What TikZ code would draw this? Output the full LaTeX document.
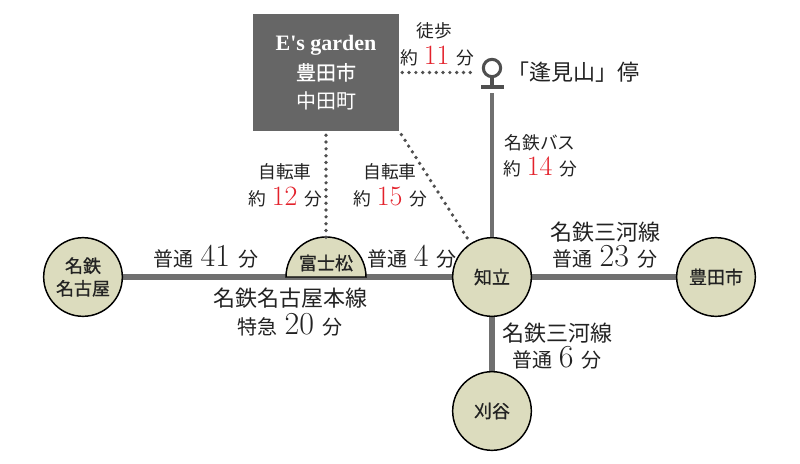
\documentclass[tikz,border=0pt]{standalone}
\usepackage{fontspec}
\usetikzlibrary{backgrounds}
\newfontfamily\jp{Noto Sans CJK JP}
\newfontfamily\jpb[FakeBold=0.8]{Noto Sans CJK JP}
\newfontfamily\serifb{Liberation Serif}
\newfontfamily\numf{Latin Modern Roman}
\definecolor{boxgray}{HTML}{666666}
\definecolor{railgray}{HTML}{707070}
\definecolor{dotgray}{HTML}{4F4F4F}
\definecolor{beige}{HTML}{DCDCBE}
\definecolor{numred}{HTML}{E3212B}
\definecolor{txt}{HTML}{222222}
\newcommand{\nm}[2]{\hspace{5pt}{\numf\fontsize{#1}{#1}\selectfont #2}\hspace{6pt}}
\newcommand{\rn}[1]{\hspace{4.5pt}{\numf\fontsize{21}{21}\selectfont\color{numred}#1}\hspace{5pt}}
\tikzset{
  station/.style={circle,draw=black,line width=1.1pt,fill=beige,minimum size=59pt,inner sep=0pt,
    font=\jpb\fontsize{13.5}{17}\selectfont,text=txt,align=center},
  rail/.style={draw=railgray,line width=4.3pt},
  bus/.style={draw=railgray,line width=3pt},
  dots/.style={draw=dotgray,line width=2.8pt,line cap=round,dash pattern=on 0pt off 5.1pt},
  lbl/.style={font=\jp\fontsize{15}{19}\selectfont,text=txt,align=center,inner sep=0pt},
  llbl/.style={font=\jp\fontsize{16.5}{19}\selectfont,text=txt,align=center,inner sep=0pt},
  slbl/.style={font=\jp\fontsize{13.3}{19}\selectfont,text=txt,align=center,inner sep=0pt},
}
\begin{document}
\begin{tikzpicture}[x=0.75pt,y=-0.75pt]
\useasboundingbox (0,0) rectangle (800,464);
% home box
\node[fill=boxgray,minimum width=109.5pt,minimum height=87.75pt,inner sep=0pt,text=white,align=center,
  font=\jp\fontsize{15}{21}\selectfont] (home) at (326,72.5)
  {\serifb\bfseries\fontsize{16.5}{20}\selectfont E's garden\\[1pt]
   \jpb\mdseries\fontsize{15}{21}\selectfont 豊田市\\中田町};
% stations
\node[station] (nagoya) at (83,277) {名鉄\\名古屋};
\node[station] (chiryu) at (492,277) {知立};
\node[station] (toyota) at (716,277) {豊田市};
\node[station] (kariya) at (492,411) {刈谷};
\coordinate (fuji) at (326,277);
\coordinate (fujitop) at (326,239);
% bus stop
\node[circle,draw=dotgray,line width=2.3pt,minimum size=13pt,inner sep=0pt] (stop) at (492,68) {};
\coordinate (stembot) at (492,87);
\coordinate (barl) at (481,87);
\coordinate (barr) at (504,87);
\coordinate (busstart) at (492,93);
\draw[draw=dotgray,line width=2.3pt] (stop.south) -- (stembot);
\draw[draw=dotgray,line width=2.6pt] (barl) -- (barr);
\begin{pgfonlayer}{background}
\draw[rail] (nagoya.center) -- (chiryu.center) -- (toyota.center);
\draw[rail] (chiryu.center) -- (kariya.center);
\end{pgfonlayer}
\draw[bus] (busstart) -- (chiryu.north);
% fujimatsu semicircle
\draw[draw=black,line width=1.1pt,fill=beige] (286,277) arc[start angle=180,end angle=0,radius=30pt] -- cycle;
\node[font=\jpb\fontsize{13.5}{15}\selectfont,text=txt,inner sep=0pt] (fujilbl) at (326,263) {富士松};
% dotted
\coordinate (walkend) at (472,72.5);
\draw[dots] (home.east) ++(3,0) -- (walkend);
\draw[dots] (home.south) ++(0,4) -- (fujitop);
\draw[dots,shorten >=2pt,shorten <=3pt] (home.south east) -- (chiryu);
% labels
\node[slbl] (walk1) at (434,31) {徒歩};
\node[slbl] (walk2) at (437,56) {約\rn{11}分};
\node[slbl] (bus1) at (540,143) {名鉄バス};
\node[slbl] (bus2) at (540,167) {約\rn{14}分};
\node[slbl] (cyc1) at (285,172) {自転車};
\node[slbl] (cyc2) at (285,197) {約\rn{12}分};
\node[slbl] (cyc3) at (390,172) {自転車};
\node[slbl] (cyc4) at (390,197) {約\rn{15}分};
\node[font=\jp\fontsize{16.5}{18}\selectfont,text=txt,anchor=west,inner sep=0pt] (stopname) at (507,72) {「逢見山」停};
\node[lbl] (l41) at (206,257) {普通\nm{24}{41}分};
\node[lbl] (l4) at (412,257) {普通\nm{24}{4}分};
\node[llbl] (lmain1) at (290,298) {名鉄名古屋本線};
\node[lbl] (lmain2) at (290,325) {特急\nm{24}{20}分};
\node[llbl] (lmk1) at (605,232) {名鉄三河線};
\node[lbl] (lmk2) at (605,257) {普通\nm{24}{23}分};
\node[llbl] (lmk3) at (557,333) {名鉄三河線};
\node[lbl] (lmk4) at (557,358) {普通\nm{24}{6}分};
\end{tikzpicture}
\end{document}
